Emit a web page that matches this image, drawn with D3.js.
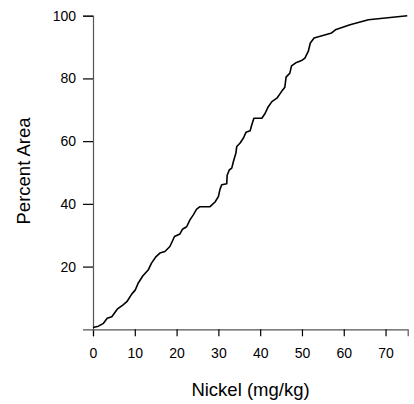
<!DOCTYPE html>
<html>
<head>
<meta charset="utf-8">
<script src="https://cdn.jsdelivr.net/npm/d3@7"></script>
<style>
  html, body { margin: 0; padding: 0; background: #fff; }
  svg { display: block; font-family: "Liberation Sans", Arial, sans-serif; }
</style>
</head>
<body>
<svg id="chart" width="414" height="404"></svg>
<script>
// Cumulative curve: Nickel (mg/kg) vs Percent Area
const nickel = [0, 1.3, 2.5, 3.4, 4.5, 5.8, 7.2, 8.1, 9.3, 10.1, 10.8, 11.9, 13.2, 14.0, 15.1, 16.0, 17.2, 18.4, 19.5, 20.8, 21.4, 22.4, 23.2, 24.0, 24.8, 25.6, 28.0, 29.2, 30.0, 30.4, 30.8, 32.0, 32.1, 32.6, 33.2, 33.6, 34.2, 34.4, 35.2, 36.0, 36.6, 37.6, 38.0, 38.5, 40.4, 41.2, 41.9, 42.8, 44.0, 45.1, 45.9, 46.2, 47.1, 47.5, 48.7, 49.9, 50.7, 51.5, 52.0, 52.9, 57.1, 58.0, 61.5, 65.9, 75.2];
const percent = [0.6, 1.0, 1.9, 3.5, 4.0, 6.4, 7.8, 8.8, 11.3, 12.5, 14.7, 17.0, 18.9, 21.1, 23.2, 24.3, 24.8, 26.4, 29.6, 30.4, 31.9, 32.7, 34.9, 36.5, 38.3, 39.1, 39.1, 40.6, 42.3, 44.7, 46.1, 46.4, 49.1, 50.8, 51.4, 53.5, 56.2, 58.3, 59.4, 61.0, 62.8, 63.3, 65.2, 67.3, 67.3, 68.9, 70.9, 72.6, 73.7, 75.8, 77.2, 80.4, 81.7, 84.0, 85.1, 85.7, 86.5, 88.6, 91.3, 92.9, 94.5, 95.5, 97.1, 98.7, 100];
const xTicks = [0, 10, 20, 30, 40, 50, 60, 70];
const yTicks = [20, 40, 60, 80, 100];
const xTitle = "Nickel (mg/kg)";
const yTitle = "Percent Area";

const svg = d3.select("#chart");
const margin = { left: 93, top: 15.7, right: 6.3, bottom: 74.7 };
const W = 414, H = 404;

const x = d3.scaleLinear().domain([0, 75.3]).range([margin.left, W - margin.right]);
const y = d3.scaleLinear().domain([0, 100]).range([H - margin.bottom, margin.top]);

// X axis
const gx = svg.append("g")
  .attr("transform", `translate(0,${y(0)})`)
  .call(d3.axisBottom(x).tickValues(xTicks).tickSizeOuter(0).tickSize(7).tickPadding(12));
// Y axis
const gy = svg.append("g")
  .attr("transform", `translate(${x(0)},0)`)
  .call(d3.axisLeft(y).tickValues(yTicks).tickSizeOuter(0).tickSize(10).tickPadding(7));

[gx, gy].forEach(g => {
  g.select(".domain").attr("stroke", "#555").attr("stroke-width", 1.2);
  g.selectAll(".tick line").attr("stroke", "#000").attr("stroke-width", 1.2);
  g.selectAll(".tick text").attr("fill", "#000").style("font-size", "14px")
    .style("font-family", "'Liberation Sans', Arial, sans-serif");
});

// Curve
const pts = nickel.map((v, i) => [v, percent[i]]);
svg.append("path")
  .datum(pts)
  .attr("fill", "none")
  .attr("stroke", "#000")
  .attr("stroke-width", 1.6)
  .attr("stroke-linejoin", "round")
  .attr("d", d3.line().x(d => x(d[0])).y(d => y(d[1])));

// Titles
svg.append("text")
  .attr("x", 250.5).attr("y", 396)
  .attr("text-anchor", "middle")
  .style("font-size", "18.5px")
  .text(xTitle);

svg.append("text")
  .attr("transform", `translate(29.5,171) rotate(-90)`)
  .attr("text-anchor", "middle")
  .style("font-size", "18.5px")
  .text(yTitle);
</script>
</body>
</html>
